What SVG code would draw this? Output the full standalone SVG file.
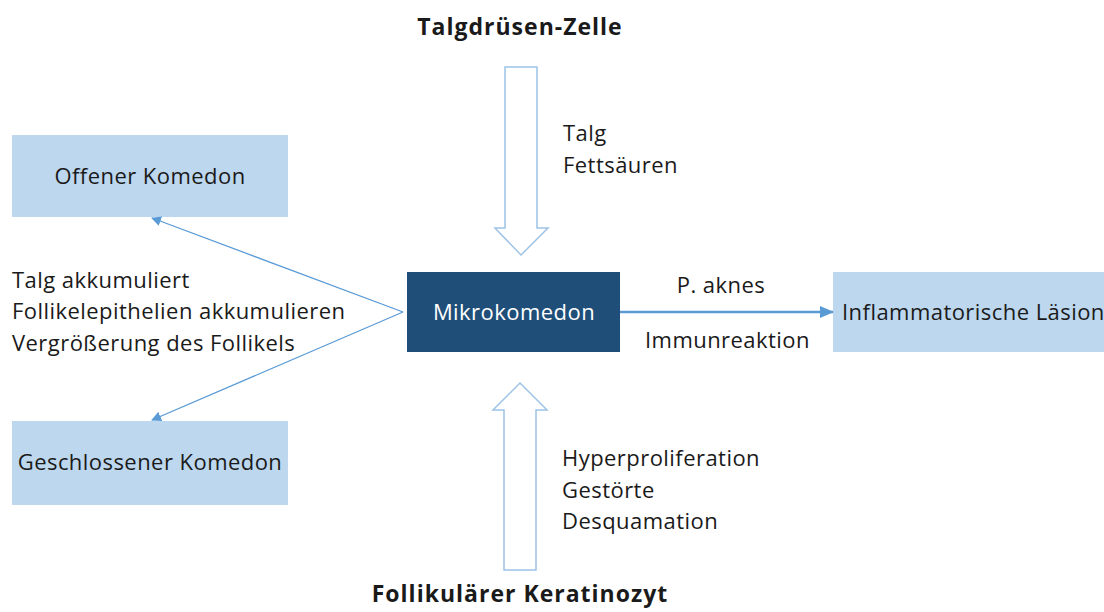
<svg xmlns="http://www.w3.org/2000/svg" width="1104" height="612" viewBox="0 0 1104 612">
<defs>
<style>
text{font-family:"Open Sans","Liberation Sans",sans-serif;font-size:22px;letter-spacing:0.45px;fill:#1a1a1a}
.b{font-weight:bold;font-size:23px;letter-spacing:1px}
.light{fill:#bdd7ee}
.dark{fill:#1f4e79}
.w{fill:#ffffff}
.ln{stroke:#5b9bd5;stroke-width:1.3;fill:none}
.blk{fill:#ffffff;stroke:#9dc3e6;stroke-width:1.5}
</style>
<marker id="ah" markerWidth="10" markerHeight="10" refX="9" refY="5" orient="auto" markerUnits="userSpaceOnUse"><path d="M0,0 L10,5 L0,10 z" fill="#5b9bd5"/></marker>
<marker id="ah2" markerWidth="14" markerHeight="12" refX="13" refY="6" orient="auto" markerUnits="userSpaceOnUse"><path d="M0,0 L14,6 L0,12 z" fill="#5b9bd5"/></marker>
</defs>
<rect width="1104" height="612" fill="#ffffff"/>
<g id="offener"><rect class="light" x="12" y="135" width="276" height="82"/><text x="150" y="184" text-anchor="middle">Offener Komedon</text></g>
<g id="geschlossener"><rect class="light" x="12" y="421" width="276" height="84"/><text x="150" y="470" text-anchor="middle">Geschlossener Komedon</text></g>
<g id="mikro"><rect class="dark" x="407" y="272" width="213" height="80"/><text class="w" x="514" y="320" text-anchor="middle">Mikrokomedon</text></g>
<g id="inflam"><rect class="light" x="833" y="272" width="271" height="80"/><text x="842" y="320">Inflammatorische Läsion</text></g>
<g id="talgdruese"><text class="b" x="520" y="35" text-anchor="middle">Talgdrüsen-Zelle</text></g>
<g id="keratinozyt"><text class="b" x="520" y="602" text-anchor="middle">Follikulärer Keratinozyt</text></g>
<g id="connectors">
<path class="blk" d="M505,67 L537,67 L537,228 L548,228 L521,255 L495,228 L505,228 Z"/>
<path class="blk" d="M504,570 L536,570 L536,410 L547,410 L520,383 L493,410 L504,410 Z"/>
<line class="ln" x1="403" y1="312" x2="152" y2="218" marker-end="url(#ah)"/>
<line class="ln" x1="403" y1="312" x2="152" y2="420" marker-end="url(#ah)"/>
<line class="ln" x1="620" y1="312" x2="833" y2="312" marker-end="url(#ah2)" style="stroke-width:2.5"/>
</g>
<g id="labels">
<text x="563" y="141">Talg</text>
<text x="563" y="173">Fettsäuren</text>
<text x="12" y="288">Talg akkumuliert</text>
<text x="12" y="319">Follikelepithelien akkumulieren</text>
<text x="12" y="351">Vergrößerung des Follikels</text>
<text x="721" y="293" text-anchor="middle">P. aknes</text>
<text x="645" y="348">Immunreaktion</text>
<text x="562" y="466">Hyperproliferation</text>
<text x="562" y="498">Gestörte</text>
<text x="562" y="529">Desquamation</text>
</g>
</svg>
